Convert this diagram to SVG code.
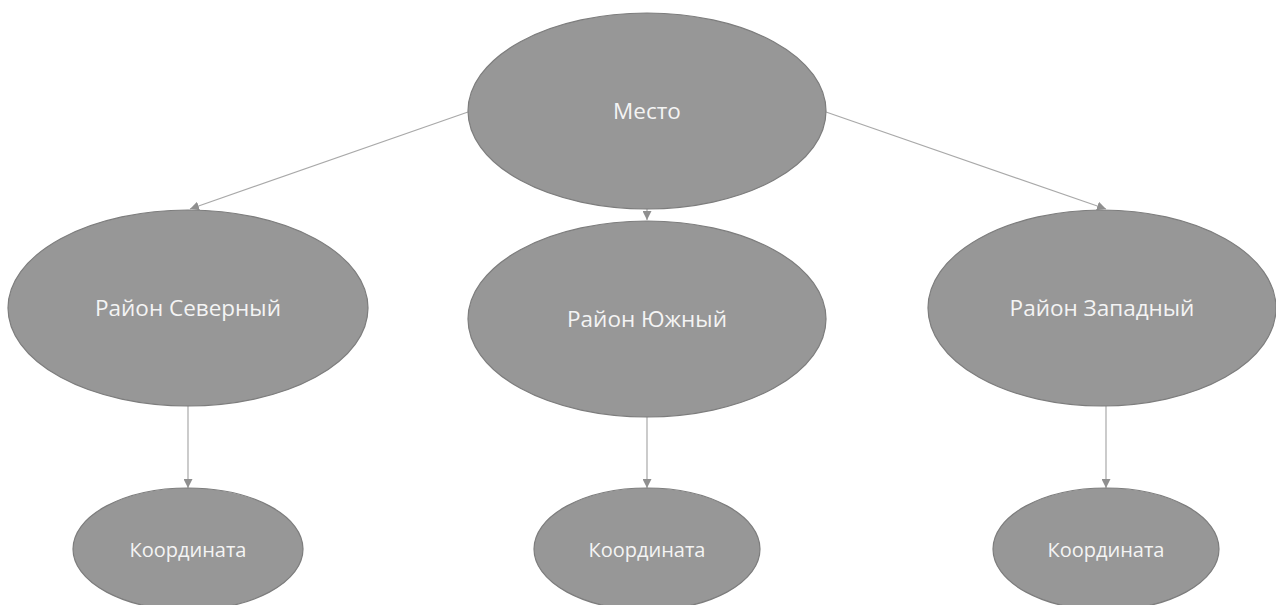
<svg xmlns="http://www.w3.org/2000/svg" width="1276" height="605" viewBox="0 0 1276 605">
<style>
.n{fill:#979797;stroke:#7d7d7d;stroke-width:1.2}
.t{fill:#f4f4f4;font-family:"Open Sans","Liberation Sans",sans-serif;text-anchor:middle;dominant-baseline:central}
.big{font-size:22.5px}
.small{font-size:20px}
.c{stroke:#a9a9a9;stroke-width:1.2;fill:none;marker-end:url(#ah)}
</style>
<defs>
<marker id="ah" viewBox="0 0 10 10" refX="10" refY="5" markerWidth="9" markerHeight="9" markerUnits="userSpaceOnUse" orient="auto">
<path d="M0,0 L10,5 L0,10 z" fill="#8f8f8f"/>
</marker>
</defs>
<rect width="1276" height="605" fill="#ffffff"/>
<g id="connectors">
<line class="c" x1="468" y1="112" x2="190" y2="209"/>
<line class="c" x1="826" y1="112" x2="1106" y2="209"/>
<line class="c" x1="647" y1="209" x2="647" y2="220"/>
<line class="c" x1="188" y1="406" x2="188" y2="488"/>
<line class="c" x1="647" y1="417" x2="647" y2="488"/>
<line class="c" x1="1106" y1="406" x2="1106" y2="488"/>
</g>
<g id="node-mesto">
<ellipse class="n" cx="647" cy="111" rx="179" ry="98"/>
<text class="t big" x="647" y="110">Место</text>
</g>
<g id="node-north">
<ellipse class="n" cx="188" cy="308" rx="180" ry="98"/>
<text class="t big" x="188" y="307">Район Северный</text>
</g>
<g id="node-south">
<ellipse class="n" cx="647" cy="319" rx="179" ry="98"/>
<text class="t big" x="647" y="318">Район Южный</text>
</g>
<g id="node-west">
<ellipse class="n" cx="1102" cy="308" rx="174" ry="98"/>
<text class="t big" x="1102" y="307">Район Западный</text>
</g>
<g id="node-coord1">
<ellipse class="n" cx="188" cy="549" rx="115" ry="61"/>
<text class="t small" x="188" y="549">Координата</text>
</g>
<g id="node-coord2">
<ellipse class="n" cx="647" cy="549" rx="113" ry="61"/>
<text class="t small" x="647" y="549">Координата</text>
</g>
<g id="node-coord3">
<ellipse class="n" cx="1106" cy="549" rx="113" ry="61"/>
<text class="t small" x="1106" y="549">Координата</text>
</g>
</svg>
